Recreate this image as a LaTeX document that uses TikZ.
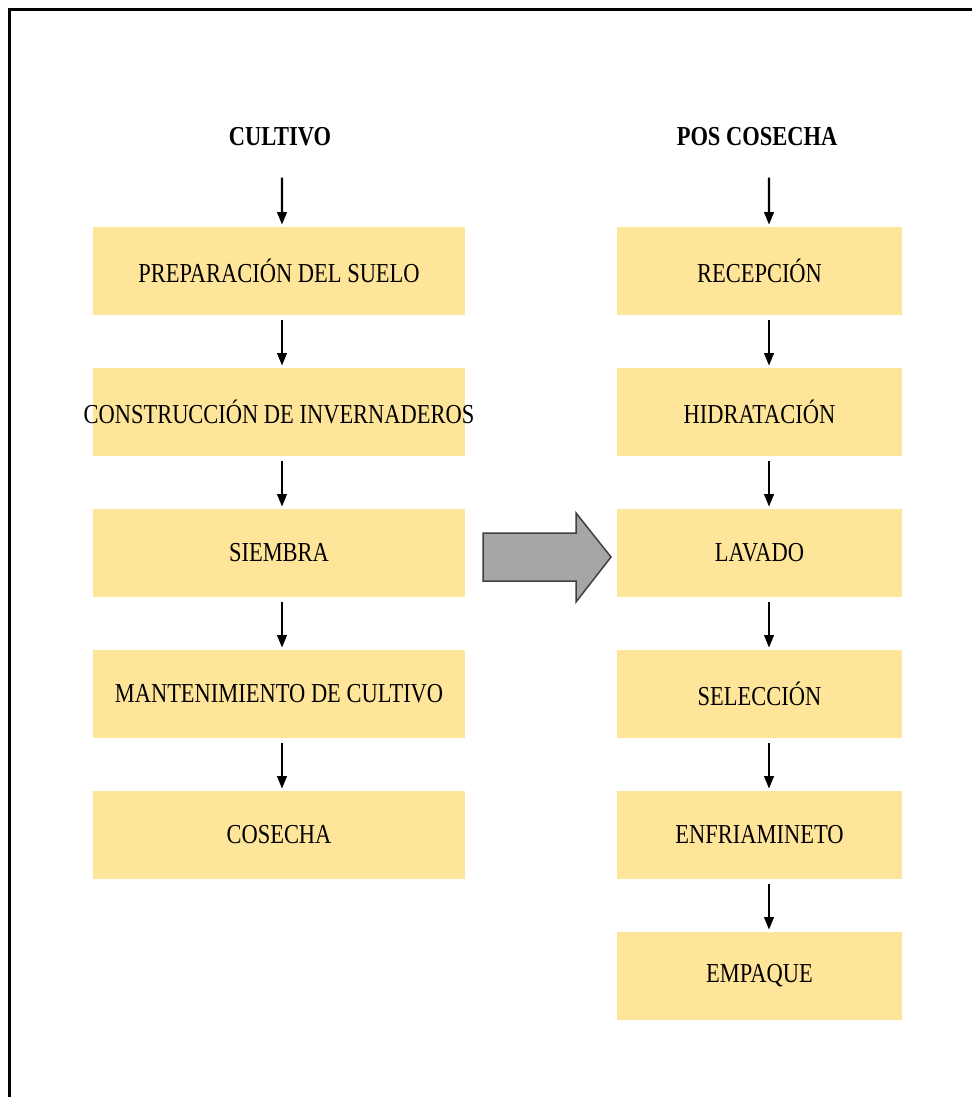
\documentclass[tikz,border=0pt]{standalone}
\usepackage{fontspec}
\setmainfont{Liberation Serif}
\newfontfamily\cajafont[FakeStretch=0.82]{Liberation Serif}
\usetikzlibrary{arrows.meta}
\definecolor{amarillo}{RGB}{255,229,153}
\definecolor{grisflecha}{RGB}{166,166,166}
\definecolor{grisborde}{RGB}{64,64,64}

\begin{document}
\begin{tikzpicture} [x=0.02cm,y=-0.02cm,
  caja/.style= {draw=none,fill=amarillo,minimum height=1.76cm,inner sep=0,font=\cajafont\fontsize{15.6}{18}\selectfont},
  titulo/.style= {inner sep=0,font=\cajafont\fontsize{15.6}{18}\selectfont\bfseries},
  flecha/.style= {-{Triangle[length=0.25cm,width=0.19cm]},line width=0.045cm}]
\useasboundingbox (0,0) rectangle (972,1097);
% marco
\draw[line width=0.07cm] (9.5,1097) -- (9.5,9.5) -- (972,9.5);

\node[titulo] (t1) at (280,137) {CULTIVO};
\node[titulo] (t2) at (757,137) {POS COSECHA};

\foreach \t [count=\i] in {PREPARACIÓN DEL SUELO,CONSTRUCCIÓN DE INVERNADEROS,SIEMBRA,MANTENIMIENTO DE CULTIVO,COSECHA}{%
  \node[caja,minimum width=7.44cm] (c\i) at (279,{271+(\i-1)*141}) {\makebox[0pt]{\t}};}
\foreach \t [count=\i] in {RECEPCIÓN,HIDRATACIÓN,LAVADO,SELECCIÓN,ENFRIAMINETO,EMPAQUE}{%
  \node[caja,minimum width=5.7cm] (r\i) at (759.5,{271+(\i-1)*141}) {\makebox[0pt]{\t}};}

\draw[flecha,shorten <=0.62cm,shorten >=0.04cm] ([xshift=0.04cm]t1.south) -- ([xshift=0.06cm]c1.north);
\draw[flecha,shorten <=0.62cm,shorten >=0.04cm] ([xshift=0.24cm]t2.south) -- ([xshift=0.19cm]r1.north);
\foreach \i [count=\j from 2] in {1,...,4}{%
  \draw[flecha,shorten <=0.1cm,shorten >=0.04cm] ([xshift=0.06cm]c\i.south) -- ([xshift=0.06cm]c\j.north);}
\foreach \i [count=\j from 2] in {1,...,5}{%
  \draw[flecha,shorten <=0.1cm,shorten >=0.04cm] ([xshift=0.19cm]r\i.south) -- ([xshift=0.19cm]r\j.north);}

% flecha gris entre columnas
\draw[fill=grisflecha,draw=grisborde,line width=0.03cm,line join=miter]
  (483,533) -- (576,533) -- (576,513) -- (611,557) -- (576,602) -- (576,581) -- (483,581) -- cycle;
\end{tikzpicture}
\end{document}
